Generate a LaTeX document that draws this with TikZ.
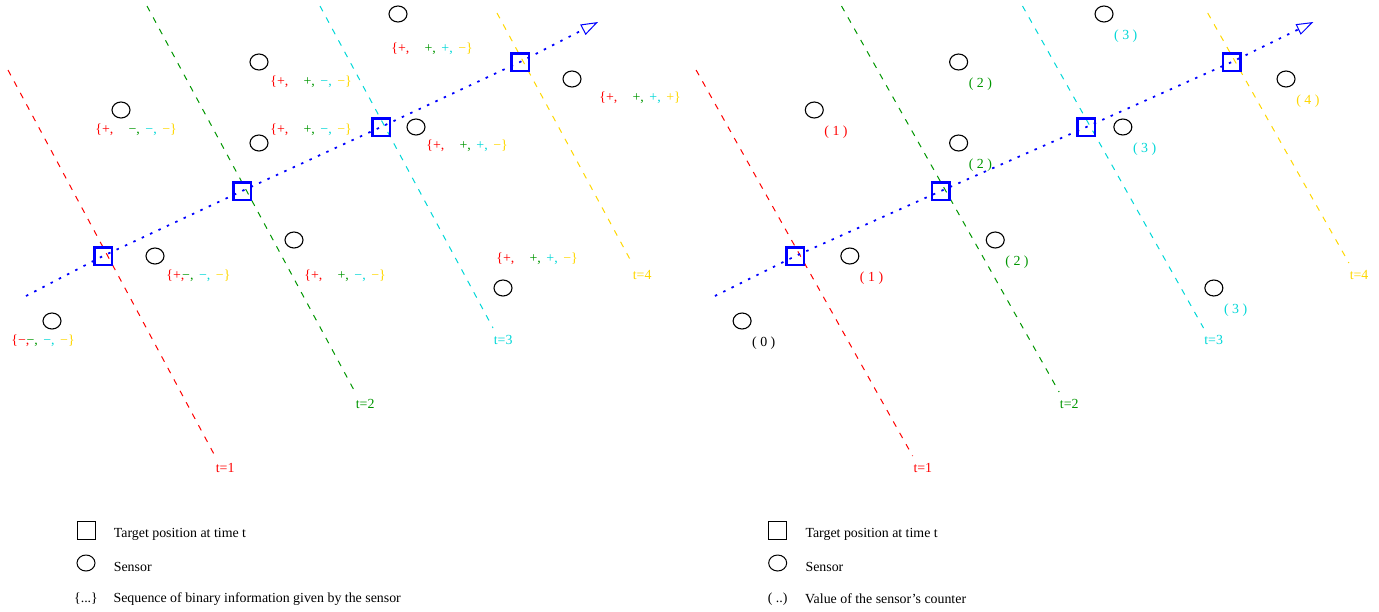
\documentclass[tikz,border=0pt]{standalone}
\usepackage{fontspec}
\setmainfont{Liberation Serif}
\usetikzlibrary{positioning, shapes.geometric, arrows.meta}
\definecolor{tred}{RGB}{255,0,0}
\definecolor{tgreen}{RGB}{0,150,0}
\definecolor{tcyan}{RGB}{0,215,215}
\definecolor{tgold}{RGB}{255,215,0}
\definecolor{tblue}{RGB}{0,0,255}
\newcommand{\binseq}[5][1.1em]{\textcolor{tred}{\{#2,}\hspace{#1}\textcolor{tgreen}{#3,}\hspace{.4em}\textcolor{tcyan}{#4,}\hspace{.4em}\textcolor{tgold}{#5\}}}

\begin{document}
\begin{tikzpicture}[
	x=0.2mm, y=-0.2mm,
	font=\fontsize{7.9}{9}\selectfont,
	node distance = 1.8mm and 0.6mm,
	sensor/.style = {ellipse, draw, line width=0.22mm,
		minimum width=3.6mm, minimum height=3.2mm, inner sep=0pt},
	target/.style = {rectangle, draw=tblue, line width=0.5mm,
		minimum size=3.5mm, inner sep=0pt},
	tline/.style = {draw=#1, line width=0.2mm, dash pattern=on 1.2mm off 1.4mm},
	tlabel/.style = {text=#1, inner sep=0pt},
	cnt/.style = {text=#1, inner sep=0pt},
	seqlabel/.style = {anchor=west, inner sep=0pt},
	legtext/.style = {inner sep=0pt},
	traj/.style = {draw=tblue, line width=0.35mm, dash pattern=on 0.5mm off 1.35mm,
		-{Triangle[open, length=3.4mm, width=2.3mm, line width=0.2mm]}}
	]
	\useasboundingbox (0,0) rectangle (1379,611);
	
	% left: binary information
	\coordinate (La1) at (8,70);   \coordinate (Lb1) at (215,456);
	\coordinate (La2) at (147,6);  \coordinate (Lb2) at (355,392);
	\coordinate (La3) at (320,6);  \coordinate (Lb3) at (493,328);
	\coordinate (La4) at (497,13); \coordinate (Lb4) at (632,263);
	\draw[tline=tred] (La1) -- (Lb1);
	\draw[tline=tgreen] (La2) -- (Lb2);
	\draw[tline=tcyan] (La3) -- (Lb3);
	\draw[tline=tgold] (La4) -- (Lb4);
	\node[tlabel=tred, below right=1.4mm and 0.1mm of Lb1] (Lt1) {t=1};
	\node[tlabel=tgreen, below right=1.4mm and 0.1mm of Lb2] (Lt2) {t=2};
	\node[tlabel=tcyan, below right=1.4mm and 0.1mm of Lb3] (Lt3) {t=3};
	\node[tlabel=tgold, below right=1.4mm and 0.1mm of Lb4] (Lt4) {t=4};
	%
	\node[target] (Lp1) at (103,256) {};
	\node[target] (Lp2) at (242,191) {};
	\node[target] (Lp3) at (381,127) {};
	\node[target] (Lp4) at (520,62) {};
	\coordinate (Lp0) at (26,296);
	\coordinate (Lp5) at (598,22);
	\draw[traj] (Lp0) -- (Lp1.center) -- (Lp2.center) -- (Lp3.center) -- (Lp4.center) -- (Lp5);
	%
	\node[sensor] (Ls1) at (121,110) {};
	\node[sensor] (Ls2) at (259,62) {};
	\node[sensor] (Ls3) at (259,143) {};
	\node[sensor] (Ls4) at (398,14) {};
	\node[sensor] (Ls5) at (416,127) {};
	\node[sensor] (Ls6) at (572,79) {};
	\node[sensor] (Ls7) at (155,256) {};
	\node[sensor] (Ls8) at (294,240) {};
	\node[sensor] (Ls9) at (52,321) {};
	\node[sensor] (Ls10) at (503,288) {};
	%
	\node[seqlabel] (Lq1) at (95,130) {\binseq{+}{−}{−}{−}};
	\node[seqlabel] (Lq2) at (270,82) {\binseq{+}{+}{−}{−}};
	\node[seqlabel] (Lq3) at (270,130) {\binseq{+}{+}{−}{−}};
	\node[seqlabel] (Lq4) at (391,49) {\binseq{+}{+}{+}{−}};
	\node[seqlabel] (Lq5) at (426,146) {\binseq{+}{+}{+}{−}};
	\node[seqlabel] (Lq6) at (599,98) {\binseq{+}{+}{+}{+}};
	\node[seqlabel] (Lq7) at (166,276) {\binseq[-0.15em]{+}{−}{−}{−}};
	\node[seqlabel] (Lq8) at (304,276) {\binseq{+}{+}{−}{−}};
	\node[seqlabel] (Lq9) at (496,259) {\binseq{+}{+}{+}{−}};
	\node[seqlabel] (Lq10) at (11,341) {\binseq[-0.2em]{−}{−}{−}{−}};
	%
	\node[rectangle, draw, line width=0.2mm, minimum size=3.6mm, inner sep=0pt] (Lk1) at (86,530) {};
	\node[sensor, line width=0.2mm] (Lk2) at (86,563) {};
	\node[inner sep=0pt] (Lk3) at (86,599) {\{...\}};
	\node[legtext, right=3.6mm of Lk1, yshift=-0.8mm] {Target position at time t};
	\node[legtext, right=3.6mm of Lk2, yshift=-0.8mm] {Sensor};
	\node[legtext, right=3mm of Lk3] {Sequence of binary information given by the sensor};
	
	% right: sensor counters
	\begin{scope}[xshift=137.54mm, xscale=1.046]
	\coordinate (Ra1) at (8,70);   \coordinate (Rb1) at (215,456);
	\coordinate (Ra2) at (147,6);  \coordinate (Rb2) at (355,392);
	\coordinate (Ra3) at (320,6);  \coordinate (Rb3) at (493,328);
	\coordinate (Ra4) at (497,13); \coordinate (Rb4) at (632,263);
	\draw[tline=tred] (Ra1) -- (Rb1);
	\draw[tline=tgreen] (Ra2) -- (Rb2);
	\draw[tline=tcyan] (Ra3) -- (Rb3);
	\draw[tline=tgold] (Ra4) -- (Rb4);
	\node[tlabel=tred, below right=1.4mm and 0.1mm of Rb1] (Rt1) {t=1};
	\node[tlabel=tgreen, below right=1.4mm and 0.1mm of Rb2] (Rt2) {t=2};
	\node[tlabel=tcyan, below right=1.4mm and 0.1mm of Rb3] (Rt3) {t=3};
	\node[tlabel=tgold, below right=1.4mm and 0.1mm of Rb4] (Rt4) {t=4};
	%
	\node[target] (Rp1) at (103,256) {};
	\node[target] (Rp2) at (242,191) {};
	\node[target] (Rp3) at (381,127) {};
	\node[target] (Rp4) at (520,62) {};
	\coordinate (Rp0) at (26,296);
	\coordinate (Rp5) at (598,22);
	\draw[traj] (Rp0) -- (Rp1.center) -- (Rp2.center) -- (Rp3.center) -- (Rp4.center) -- (Rp5);
	%
	\node[sensor] (Rs1) at (121,110) {};
	\node[sensor] (Rs2) at (259,62) {};
	\node[sensor] (Rs3) at (259,143) {};
	\node[sensor] (Rs4) at (398,14) {};
	\node[sensor] (Rs5) at (416,127) {};
	\node[sensor] (Rs6) at (572,79) {};
	\node[sensor] (Rs7) at (155,256) {};
	\node[sensor] (Rs8) at (294,240) {};
	\node[sensor] (Rs9) at (52,321) {};
	\node[sensor] (Rs10) at (503,288) {};
	%
	\node[cnt=tred, below right=of Rs1] (Rc1) {( 1 )};
	\node[cnt=tgreen, below right=of Rs2] (Rc2) {( 2 )};
	\node[cnt=tgreen, below right=of Rs3] (Rc3) {( 2 )};
	\node[cnt=tcyan, below right=of Rs4] (Rc4) {( 3 )};
	\node[cnt=tcyan, below right=of Rs5] (Rc5) {( 3 )};
	\node[cnt=tgold, below right=of Rs6] (Rc6) {( 4 )};
	\node[cnt=tred, below right=of Rs7] (Rc7) {( 1 )};
	\node[cnt=tgreen, below right=of Rs8] (Rc8) {( 2 )};
	\node[cnt=black, below right=of Rs9] (Rc9) {( 0 )};
	\node[cnt=tcyan, below right=of Rs10] (Rc10) {( 3 )};
	%
	\node[rectangle, draw, line width=0.2mm, minimum size=3.6mm, inner sep=0pt] (Rk1) at (86,530) {};
	\node[sensor, line width=0.2mm] (Rk2) at (86,563) {};
	\node[inner sep=0pt] (Rk3) at (86,599) {( ..)};
	\node[legtext, right=3.6mm of Rk1, yshift=-0.8mm] {Target position at time t};
	\node[legtext, right=3.6mm of Rk2, yshift=-0.8mm] {Sensor};
	\node[legtext, right=3.4mm of Rk3] {Value of the sensor’s counter};
	\end{scope}
\end{tikzpicture}
\end{document}
